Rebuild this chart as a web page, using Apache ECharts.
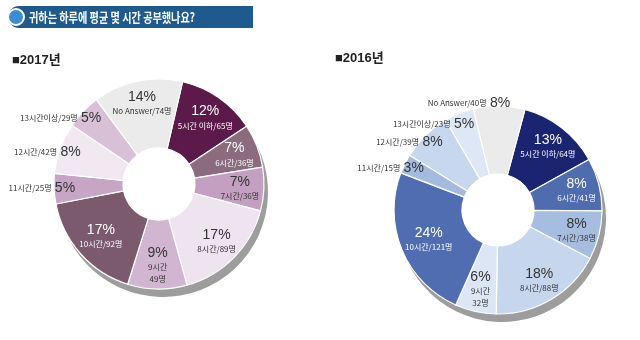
<!DOCTYPE html>
<html><head><meta charset="utf-8">
<script src="https://cdn.jsdelivr.net/npm/echarts@6/dist/echarts.min.js"></script>
<style>html,body{margin:0;padding:0;background:#fff}#c{width:640px;height:340px}</style>
</head><body><div id="c"></div>
<script>
const categories = ['5시간 이하','6시간','7시간','8시간','9시간','10시간','11시간','12시간','13시간이상','No Answer'];
const counts2017 = [65,36,36,89,49,92,25,42,29,74];
const pct2017 = [12,7,7,17,9,17,5,8,5,14];
const counts2016 = [64,41,38,88,32,121,15,39,23,40];
const pct2016 = [13,8,8,18,6,24,3,8,5,8];
const titleText = '귀하는 하루에 평균 몇 시간 공부했나요?';
const yearLabels = ['■2017년','■2016년'];

const colors2017 = ['#5c1a4a','#8a6c7e','#c39fc1','#eee4ef','#d2b6d1','#7b5a6e','#c7a5c5','#f1e8f2','#d8c0d7','#ebebeb'];
const colors2016 = ['#1b2470','#4f6cae','#a7bde0','#c6d6ed','#dce6f4','#4f6db0','#a4bbdf','#c7d7ed','#dde7f5','#ebebeb'];
const whiteText2017 = [0,1,5];
const whiteText2016 = [0,1,5];
const inlineIdx2017 = [6,7,8];
const inlineIdx2016 = [6,7,8,9];

const FONT = '"Liberation Sans","Noto Sans CJK KR",sans-serif';

function buildPie(counts, pcts, colors, whiteIdx, inlineIdx, cx, cy, r0, r1, startAngle, radialFor) {
  const total = counts.reduce((a,b)=>a+b,0);
  const mids = [];
  let acc = 0;
  counts.forEach(v => { mids.push((90 - startAngle) + (acc + v/2)/total*360); acc += v; });
  const mid = (r0 + r1) / 2;
  return [
    {
      type:'pie', silent:true, z:1, center:[cx+4, cy+8], radius:[r0+12, r1],
      startAngle: startAngle, label:{show:false}, labelLine:{show:false},
      itemStyle:{color:'#9d9d9d'}, emphasis:{disabled:true},
      data:[{value:1, name:'shadow'}]
    },
    {
      type:'pie', z:2, center:[cx, cy], radius:[r0, r1], startAngle: startAngle, clockwise:true,
      avoidLabelOverlap:false, emphasis:{disabled:true},
      itemStyle:{borderColor:'#ffffff', borderWidth:1.2},
      labelLine:{show:false},
      label:{
        show:true, position:'inside', fontFamily:FONT,
        formatter: p => {
          const i = p.dataIndex;
          const nm = categories[i] + '/' + counts[i] + '명';
          if (inlineIdx.includes(i)) return '{n|' + nm + '} {p|' + pcts[i] + '%}';
          if (categories[i] === '9시간') return '{p|' + pcts[i] + '%}\n{n|' + categories[i] + '}\n{n|' + counts[i] + '명}';
          return '{p|' + pcts[i] + '%}\n{n|' + nm + '}';
        },
        rich:{
          p:{fontSize:14, fontFamily:FONT, lineHeight:16},
          n:{fontSize:8, fontFamily:'"Noto Sans CJK KR",sans-serif', lineHeight:12}
        }
      },
      labelLayout: params => {
        const i = params.dataIndex;
        const a = mids[i] * Math.PI / 180;
        const R = radialFor(i);
        const d = R - mid;
        let extraX = 0;
        if (inlineIdx.includes(i)) extraX = -params.labelRect.width / 2 + 11;
        return {dx: d*Math.sin(a) + extraX, dy: -d*Math.cos(a)};
      },
      data: categories.map((c,i)=>({
        name:c, value:counts[i],
        itemStyle:{color:colors[i]},
        label:{color: whiteIdx.includes(i) ? '#ffffff' : '#333333'}
      }))
    }
  ];
}

const chart = echarts.init(document.getElementById('c'), null, {renderer:'canvas'});
chart.setOption({
  animation:false,
  backgroundColor:'#ffffff',
  graphic:[
    {type:'rect', shape:{x:8, y:6, width:245, height:22, r:[11,0,0,11]}, style:{fill:'#1e5a8e'}},
    {type:'circle', shape:{cx:16, cy:17, r:8}, style:{fill:'#3d8bd5', stroke:'#ffffff', lineWidth:2}},
    {type:'text', x:29, y:17, scaleX:0.78, style:{text:titleText, fill:'#ffffff', font:'bold 13px "Noto Sans CJK KR",sans-serif', verticalAlign:'middle'}},
    {type:'text', x:12, y:60, style:{text:yearLabels[0], fill:'#222222', font:'bold 13px "Liberation Sans","Noto Sans CJK KR",sans-serif', verticalAlign:'middle'}},
    {type:'text', x:335, y:58, style:{text:yearLabels[1], fill:'#222222', font:'bold 13px "Liberation Sans","Noto Sans CJK KR",sans-serif', verticalAlign:'middle'}}
  ],
  series:[].concat(
    buildPie(counts2017, pct2017, colors2017, whiteText2017, inlineIdx2017, 159, 184, 36, 105, 77,
      i => (inlineIdx2017.includes(i) ? 92 : (i === 9 ? 80 : (i === 5 ? 75 : 78)))),
    buildPie(counts2016, pct2016, colors2016, whiteText2016, inlineIdx2016, 498, 210, 36, 104, 75,
      i => (i === 9 ? 104 : (i === 8 ? 90 : (inlineIdx2016.includes(i) ? 92 : (i === 5 ? 72 : 78)))))
  )
});
</script>
</body></html>
